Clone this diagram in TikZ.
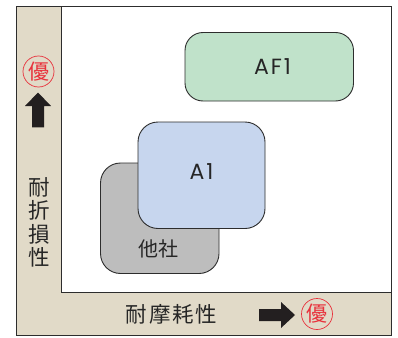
\documentclass[tikz,border=0pt]{standalone}
\usepackage{fontspec}
\setmainfont{Poppins}
\newfontfamily\jpfont{Noto Sans CJK JP}
\definecolor{strip}{RGB}{225,218,200}
\definecolor{edge}{RGB}{45,45,45}
\definecolor{greenbox}{RGB}{192,226,202}
\definecolor{bluebox}{RGB}{199,214,238}
\definecolor{graybox}{RGB}{189,189,189}
\definecolor{redmark}{RGB}{232,50,60}
\definecolor{arrowblack}{RGB}{35,31,32}
\tikzset{
  panel/.style={draw=edge,line width=1pt},
  company/.style={draw=edge,line width=0.9pt,rounded corners=#1},
  label/.style={font=\jpfont\fontsize{21.5}{23.5}\selectfont,text=black!85,inner sep=0pt},
  latinlabel/.style={font=\fontsize{22}{24}\selectfont\addfontfeature{LetterSpace=9},text=black!85,inner sep=0pt},
  yuu/.style={circle,draw=redmark,line width=0.7pt,minimum size=31pt,inner sep=0pt,text=redmark,font=\jpfont\fontsize{21}{24}\selectfont},
  bigarrow/.style={fill=arrowblack,draw=none},
}
\begin{document}
\begin{tikzpicture}[x=1pt,y=-1pt]
\useasboundingbox (0,0) rectangle (398,337);
\draw[panel,fill=strip] (16.5,6.5) rectangle (391.5,335) ;
\draw[panel,fill=white] (61,6.5) rectangle (391.5,292);
\node[company=20pt,fill=graybox,minimum width=118.5pt,minimum height=110.5pt,inner sep=0pt] (other) at (159.75,218.25) {};
\node[company=20pt,fill=bluebox,minimum width=127pt,minimum height=106.5pt,inner sep=0pt] (a1) at (201.5,175.25) {};
\node[company=18pt,fill=greenbox,minimum width=168.5pt,minimum height=68.5pt,inner sep=0pt] (af1) at (269.25,66.75) {};
\node[latinlabel] at (272.5,67) {AF1};
\node[latinlabel] at (201.5,172) {A1};
\node[label,font=\jpfont\fontsize{20}{24}\selectfont] (ot) at (158.5,248.5) {他社};
\node[label,align=center] (vert) at (39,222.5) {耐\\折\\損\\性};
\node[label] (horiz) at (171.5,314) {\addfontfeature{LetterSpace=8}耐摩耗性};
\node[yuu] (y1) at (38.5,71.5) {優};
\node[yuu] (y2) at (317,314) {優};
\fill[bigarrow] (38,92.5) -- (51,106) -- (44,106) -- (44,127.3) -- (32,127.3) -- (32,106) -- (25,106) -- cycle;
\fill[bigarrow] (295,315) -- (281,302) -- (281,309) -- (259,309) -- (259,321) -- (281,321) -- (281,328) -- cycle;
\end{tikzpicture}
\end{document}
